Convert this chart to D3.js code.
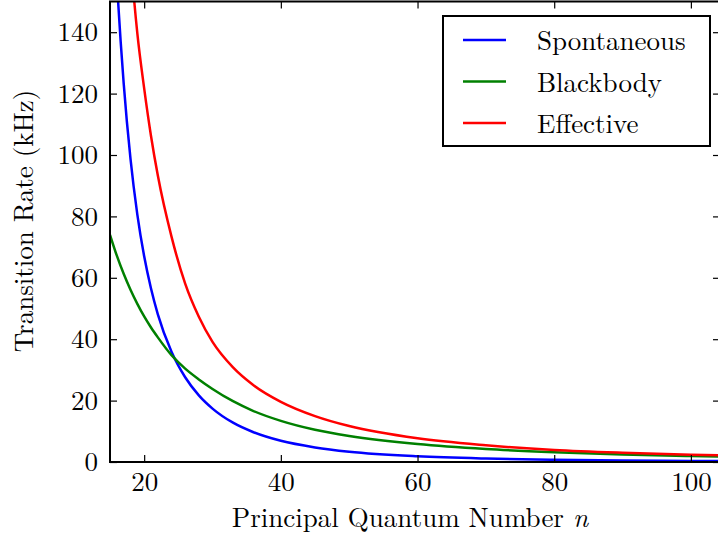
<!DOCTYPE html>
<html>
<head>
<meta charset="utf-8">
<script src="https://cdn.jsdelivr.net/npm/d3@7"></script>
<style>
  body { margin: 0; background: #fff; }
</style>
</head>
<body>
<div id="chart"></div>
<script>
// principal quantum number samples
var nValues = [15, 16, 17, 18, 19, 20, 21, 22, 24, 26, 28, 30, 33, 36, 40, 45, 50, 60, 70, 80, 90, 100, 105];
// transition rates in kHz
var spontaneous = [204.8, 157.2, 123.4, 98.7, 80.6, 67, 56.5, 48.1, 35.9, 27.6, 21.7, 17.4, 12.8, 9.7, 6.9, 4.75, 3.35, 1.85, 1.12, 0.73, 0.5, 0.36, 0.31];
var blackbody   = [74, 67.2, 61.3, 56.1, 51.5, 47.4, 43.8, 40.6, 34.8, 30.4, 26.9, 23.8, 19.8, 16.6, 13.4, 10.5, 8.5, 5.85, 4.23, 3.2, 2.47, 1.96, 1.76];
var effective   = [270, 225, 197, 164.7, 139.6, 121.7, 106.2, 93.3, 73.4, 58.1, 47.3, 39.1, 30.8, 25.0, 19.6, 14.95, 11.7, 7.7, 5.44, 3.9, 3.0, 2.38, 2.14];
var seriesNames = ["Spontaneous", "Blackbody", "Effective"];
var seriesColors = ["#0000ff", "#008000", "#ff0000"];
var xTicks = [20, 40, 60, 80, 100];
var yTicks = [0, 20, 40, 60, 80, 100, 120, 140];

(function () {
    var width = 718, height = 538;
    var pLeft = 110, pRight = 720, pTop = 1.5, pBottom = 462;
    var font = '"Latin Modern Roman", "Liberation Serif", serif';

    var svg = d3.select('#chart')
        .append('svg')
        .attr('width', width)
        .attr('height', height);

    var x = d3.scaleLinear().domain([15, 104.26]).range([pLeft, pRight]);
    var y = d3.scaleLinear().domain([0, 150]).range([pBottom, pTop]);

    svg.append('clipPath').attr('id', 'clip')
        .append('rect')
        .attr('x', pLeft).attr('y', pTop)
        .attr('width', pRight - pLeft).attr('height', pBottom - pTop);

    var line = d3.line()
        .x(function (d) { return x(d[0]); })
        .y(function (d) { return y(d[1]); })
        .curve(d3.curveMonotoneX);

    var allSeries = [spontaneous, blackbody, effective];
    svg.append('g').attr('clip-path', 'url(#clip)')
        .selectAll('path')
        .data(allSeries)
        .enter()
        .append('path')
        .attr('d', function (vals) { return line(nValues.map(function (n, i) { return [n, vals[i]]; })); })
        .attr('fill', 'none')
        .attr('stroke', function (d, i) { return seriesColors[i]; })
        .attr('stroke-width', 2.5);

    // axes with inward ticks on all four sides
    var tickLen = 7;
    function styleAxis(g) {
        g.select('.domain').remove();
        g.selectAll('text').style('font-family', font).style('font-size', '27px').attr('fill', '#000');
        g.selectAll('line').attr('stroke-width', 1.2);
    }
    svg.append('g').attr('transform', 'translate(0,' + pBottom + ')')
        .call(d3.axisBottom(x).tickValues(xTicks).tickSizeInner(-tickLen).tickSizeOuter(0).tickPadding(10))
        .call(styleAxis);
    svg.append('g').attr('transform', 'translate(0,' + pTop + ')')
        .call(d3.axisTop(x).tickValues(xTicks).tickSizeInner(-tickLen).tickSizeOuter(0).tickFormat(''))
        .call(styleAxis);
    svg.append('g').attr('transform', 'translate(' + pLeft + ',0)')
        .call(d3.axisLeft(y).tickValues(yTicks).tickSizeInner(-tickLen).tickSizeOuter(0).tickPadding(12))
        .call(styleAxis);
    svg.append('g').attr('transform', 'translate(' + pRight + ',0)')
        .call(d3.axisRight(y).tickValues(yTicks).tickSizeInner(-tickLen).tickSizeOuter(0).tickFormat(''))
        .call(styleAxis);

    // frame
    svg.append('rect')
        .attr('x', pLeft).attr('y', pTop)
        .attr('width', pRight - pLeft).attr('height', pBottom - pTop)
        .attr('fill', 'none').attr('stroke', '#000').attr('stroke-width', 2);

    // axis titles
    var xt = svg.append('text')
        .attr('x', 410).attr('y', 527)
        .attr('text-anchor', 'middle')
        .style('font-family', font)
        .style('font-size', '27px');
    xt.append('tspan').text('Principal Quantum Number ');
    xt.append('tspan').style('font-style', 'italic').text('n');

    svg.append('text')
        .attr('transform', 'translate(33,221) rotate(-90)')
        .attr('text-anchor', 'middle')
        .style('font-family', font)
        .style('font-size', '27px')
        .text('Transition Rate (kHz)');

    // legend
    var legend = svg.append('g');
    legend.append('rect')
        .attr('x', 443).attr('y', 16)
        .attr('width', 267).attr('height', 130)
        .attr('fill', '#fff').attr('stroke', '#000').attr('stroke-width', 2);
    var items = legend.selectAll('g.item')
        .data(seriesNames)
        .enter()
        .append('g')
        .attr('class', 'item')
        .attr('transform', function (d, i) { return 'translate(0,' + (40 + i * 41.5) + ')'; });
    items.append('line')
        .attr('x1', 463).attr('x2', 506)
        .attr('stroke', function (d, i) { return seriesColors[i]; })
        .attr('stroke-width', 2.5);
    items.append('text')
        .attr('x', 537).attr('y', 10)
        .style('font-family', font)
        .style('font-size', '27px')
        .text(function (d) { return d; });
})();
</script>
</body>
</html>
